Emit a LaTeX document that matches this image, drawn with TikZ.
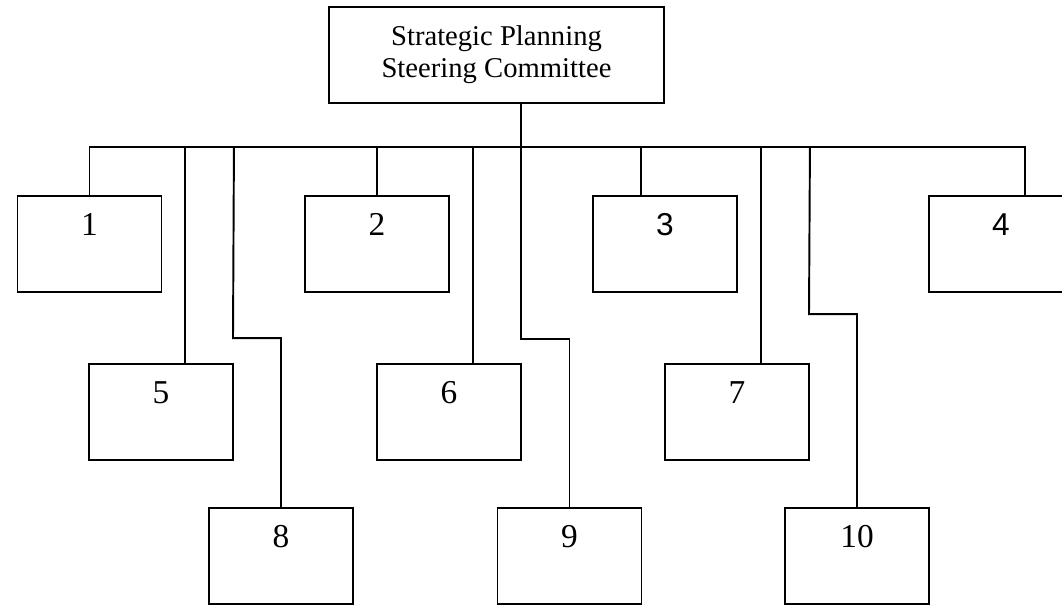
\documentclass[tikz,border=0pt]{standalone}
\usepackage{fontspec}
\setmainfont{Liberation Serif}
\newfontfamily\arialfont{Liberation Sans}
\usepackage{tikz}

\begin{document}
\begin{tikzpicture}[
  x=0.02cm, y=-0.02cm,
  line width=1.1pt,
  box/.style={draw, rectangle, minimum width=2.88cm, minimum height=1.92cm, inner sep=0pt,
    font=\fontsize{19}{22}\selectfont, text height=0.5cm, text depth=0.846cm},
  sansbox/.style={box, font=\arialfont\fontsize{18}{22}\selectfont}
]
  \useasboundingbox (0,0) rectangle (1062,605);

  \node[draw, minimum width=6.7cm, minimum height=1.92cm, align=center,
    font=\fontsize{16.3}{18.2}\selectfont] (top) at (496.5,55)
    {Strategic Planning\\Steering Committee};
  \coordinate (hub) at (521,147);

  % first row
  \node[box] (b1) at (89.5,244) {1};
  \node[box] (b2) at (377,244) {2};
  \node[sansbox] (b3) at (665,244) {3};
  \node[sansbox] (b4) at (1001,244) {4};
  % second row
  \node[box] (b5) at (161,412) {5};
  \node[box] (b6) at (449,412) {6};
  \node[box] (b7) at (737,412) {7};
  % third row
  \node[box] (b8) at (281,556) {8};
  \node[box] (b9) at (569.5,556) {9};
  \node[box] (b10) at (857,556) {10};

  \draw (top.south -| hub) -- (hub);
  \draw (hub) -| (b1.north);
  \draw (hub) -| ([xshift=0.48cm]b4.north);
  \draw (b2.north |- hub) -- (b2.north);
  \draw ([xshift=-0.48cm]b3.north |- hub) -- ([xshift=-0.48cm]b3.north);
  \draw ([xshift=0.48cm]b5.north |- hub) -- ([xshift=0.48cm]b5.north);
  \draw ([xshift=0.48cm]b6.north |- hub) -- ([xshift=0.48cm]b6.north);
  \draw ([xshift=0.48cm]b7.north |- hub) -- ([xshift=0.48cm]b7.north);

  \draw (b8.north) -- ++(0,-169) -- ++(-48,0) -- (b5.north east |- hub);
  \draw (hub) -- ++(0,192) -| (b9.north);
  \draw (b10.north) -- ++(0,-193) -- ++(-48,0) -- (b7.north east |- hub);

\end{tikzpicture}
\end{document}
